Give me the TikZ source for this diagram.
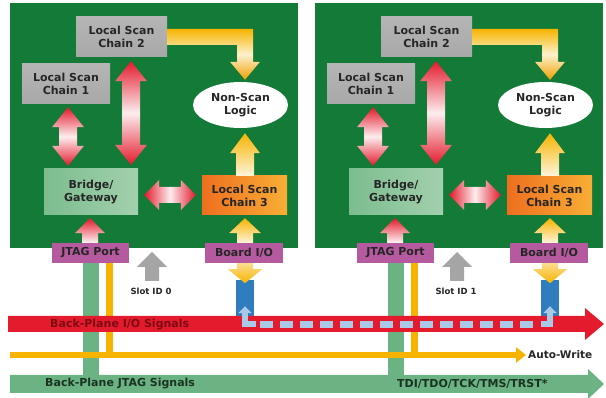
\documentclass[tikz,border=0pt]{standalone}
\usepackage{fontspec}
\setmainfont{DejaVu Sans}
\usetikzlibrary{calc,shapes.geometric,arrows.meta}
\definecolor{boardG}{HTML}{137A37}
\definecolor{bandG}{HTML}{6BB383}
\definecolor{redA}{HTML}{E31B2D}
\definecolor{redT}{HTML}{7E0A12}
\definecolor{yelA}{HTML}{F6B400}
\definecolor{yelB}{HTML}{F0A000}
\definecolor{blueA}{HTML}{2F7DBE}
\definecolor{lbA}{HTML}{A9C9E6}
\definecolor{grayA}{HTML}{A5A5A5}
\definecolor{boxG}{HTML}{A8A8A8}
\definecolor{magA}{HTML}{B65A9F}
\definecolor{orgA}{HTML}{EE6F1F}
\definecolor{orgB}{HTML}{F8AE35}
\definecolor{brgA}{HTML}{7CBD8E}
\definecolor{brgB}{HTML}{A2D0AD}
\definecolor{txtD}{HTML}{262626}
\definecolor{greenT}{HTML}{1B3321}

\tikzset{
  boxlbl/.style={font=\bfseries\fontsize{11}{13}\selectfont, text=txtD, align=center, inner sep=0pt},
  graybox/.style={boxlbl, rectangle, minimum height=40pt, top color=boxG!85!white, bottom color=boxG},
  bridgebox/.style={boxlbl, rectangle, minimum width=94pt, minimum height=46pt, left color=brgA, right color=brgB},
  orangebox/.style={boxlbl, rectangle, minimum width=85pt, minimum height=39pt, left color=orgA, right color=orgB},
  logicell/.style={boxlbl, ellipse, fill=white, minimum width=95pt, minimum height=46pt},
  portbox/.style={font=\bfseries\fontsize{11}{13}\selectfont, text=txtD, fill=magA, minimum height=20pt, inner sep=0pt},
  slotlbl/.style={font=\bfseries\fontsize{8.5}{10}\selectfont, text=txtD, inner sep=0pt},
  bandlbl/.style={font=\bfseries\fontsize{11}{13}\selectfont, inner sep=0pt},
  redDblV/.style={top color=redA, bottom color=redA, middle color=redA!8},
  redDblH/.style={left color=redA, right color=redA, middle color=redA!8},
  redUp/.style={top color=redA, bottom color=redA!5},
  yelUp/.style={top color=yelA, bottom color=yelA!15},
  yelL/.style={top color=yelA, bottom color=yelB, middle color=yelA!20},
  yelD/.style={top color=yelA!45, bottom color=yelA},
  grayUp/.style={fill=grayA},
}

% single vertical fat arrow: style, x, tail anchor, tip anchor, gap, shaft half, head half, head length
\newcommand{\fatV}[8]{%
  \path[#1] let \p3=({#2},0), \p1=(#3), \p2=(#4),
    \n1={ifthenelse(\y2>\y1,1,-1)}, \n2={\y2-(\n1)*#5}, \n3={\y2-(\n1)*#5-(\n1)*#8} in
    (\x3-#6,\y1) -- (\x3-#6,\n3*1pt) -- (\x3-#7,\n3*1pt) -- (\x3,\n2*1pt)
    -- (\x3+#7,\n3*1pt) -- (\x3+#6,\n3*1pt) -- (\x3+#6,\y1) -- cycle;}
% vertical double fat arrow: style, x, upper anchor, lower anchor, gap, shaft half, head half, head length
\newcommand{\fatVV}[8]{%
  \path[#1] let \p3=({#2},0), \p1=(#3), \p2=(#4),
    \n1={\y1-#5}, \n2={\y2+#5}, \n3={\y1-#5-#8}, \n4={\y2+#5+#8} in
    (\x3,\n1*1pt) -- (\x3+#7,\n3*1pt) -- (\x3+#6,\n3*1pt) -- (\x3+#6,\n4*1pt)
    -- (\x3+#7,\n4*1pt) -- (\x3,\n2*1pt) -- (\x3-#7,\n4*1pt) -- (\x3-#6,\n4*1pt)
    -- (\x3-#6,\n3*1pt) -- (\x3-#7,\n3*1pt) -- cycle;}
% horizontal double fat arrow: style, y, left anchor, right anchor, gap, shaft half, head half, head length
\newcommand{\fatHH}[8]{%
  \path[#1] let \p3=(0,{#2}), \p1=(#3), \p2=(#4),
    \n1={\x1+#5}, \n2={\x2-#5}, \n3={\x1+#5+#8}, \n4={\x2-#5-#8} in
    (\n1*1pt,\y3) -- (\n3*1pt,\y3+#7) -- (\n3*1pt,\y3+#6) -- (\n4*1pt,\y3+#6)
    -- (\n4*1pt,\y3+#7) -- (\n2*1pt,\y3) -- (\n4*1pt,\y3-#7) -- (\n4*1pt,\y3-#6)
    -- (\n3*1pt,\y3-#6) -- (\n3*1pt,\y3-#7) -- cycle;}

% one board: offset, name prefix, slot label
\newcommand{\boardunit}[3]{%
  \fill[boardG] ({#1+10},3) rectangle ({#1+298},248);
  \node[graybox, minimum width=91pt] (#2lsc2) at ({#1+121.5},37) {Local Scan\\Chain 2};
  \node[graybox, minimum width=88pt] (#2lsc1) at ({#1+66},84) {Local Scan\\Chain 1};
  \node[logicell] (#2nsl) at ({#1+240.5},105) {Non-Scan\\Logic};
  \node[bridgebox] (#2brg) at ({#1+91},192) {Bridge/\\Gateway};
  \node[orangebox] (#2lsc3) at ({#1+244.5},195.5) {Local Scan\\Chain 3};
  \node[portbox, minimum width=77pt] (#2jtag) at ({#1+90.5},253) {JTAG Port};
  \node[portbox, minimum width=78pt] (#2bio) at ({#1+244},253) {Board I/O};
  % verticals to backplane
  \fill[bandG] ($(#2jtag.south)+(-7.5,0)$) rectangle ($(#2jtag.south)+(8.5,113)$);
  \fill[yelA] ($(#2jtag.south)+(15.5,0)$) rectangle ($(#2jtag.south)+(22.5,93)$);
  \fill[blueA] ($(#2bio.south)+(-8.5,17)$) rectangle ($(#2bio.south)+(9.5,53)$);
  % fat arrows
  \path[yelL] let \p1=(#2lsc2.east), \p2=(#2nsl.north), \p3=({#1+245},0) in
    (\x1,\y1+8pt) -- (\x3+8pt,\y1+8pt) -- (\x3+8pt,\y2+20pt) -- (\x3+15pt,\y2+20pt)
    -- (\x3,\y2+2pt) -- (\x3-15pt,\y2+20pt) -- (\x3-8pt,\y2+20pt) -- (\x3-8pt,\y1-8pt)
    -- (\x1,\y1-8pt) -- cycle;
  \fatVV{redDblV}{#1+68}{#2lsc1.south}{#2brg.north}{3pt}{9pt}{16pt}{20pt}
  \fatVV{redDblV}{#1+131}{#2lsc2.south}{#2brg.north}{4pt}{9pt}{16pt}{20pt}
  \fatHH{redDblH}{195}{#2brg.east}{#2lsc3.west}{6pt}{8pt}{15pt}{15pt}
  \fatV{yelUp}{#1+245}{#2lsc3.north}{#2nsl.south}{5pt}{9pt}{15pt}{20pt}
  \fatV{redUp}{#1+90}{#2jtag.north}{#2brg.south}{3pt}{8pt}{15pt}{15pt}
  \fatV{yelUp}{#1+245}{#2bio.north}{#2lsc3.south}{3pt}{8pt}{16pt}{15pt}
  \coordinate (#2biotip) at ($(#2bio.south)+(1,20)$);
  \fatV{yelD}{#1+245}{#2bio.south}{#2biotip}{0pt}{8pt}{17pt}{14pt}
  % slot id
  \node[slotlbl] (#2slot) at ({#1+151},291) {#3};
  \coordinate (#2sb) at ({#1+152},281);
  \coordinate (#2st) at ({#1+152},252);
  \fatV{grayUp}{#1+152}{#2sb}{#2st}{0pt}{7pt}{15pt}{15pt}
}

\begin{document}
\begin{tikzpicture}[x=1pt,y=-1pt]
\useasboundingbox (0,0) rectangle (606,398);
\fill[white] (0,0) rectangle (606,398);

\boardunit{0}{L}{Slot ID 0}
\boardunit{305}{R}{Slot ID 1}

% Back-plane I/O band
\fill[redA] (8,316) -- (585,316) -- (585,308) -- (604,324) -- (585,340) -- (585,332) -- (8,332) -- cycle;
\node[bandlbl, text=redT, anchor=west] (iolbl) at (50,324.5) {Back-Plane I/O Signals};

% Auto-write line
\node[bandlbl, text=txtD, anchor=west, font=\bfseries\fontsize{10.5}{12}\selectfont] (aw) at (528,355) {Auto-Write};
\coordinate (awstart) at (10,355);
\draw[yelA, line width=6pt, -{Triangle[length=10pt,width=15pt]}] (awstart) -- ([xshift=-2pt]aw.west);

% Back-plane JTAG band
\fill[bandG] (10,375) -- (588,375) -- (588,369) -- (604,384) -- (588,399) -- (588,393) -- (10,393) -- cycle;
\node[bandlbl, text=greenT, anchor=west] (jtaglbl) at (45,384) {Back-Plane JTAG Signals};
\node[bandlbl, text=greenT, anchor=west] (siglbl) at (397,384) {TDI/TDO/TCK/TMS/TRST*};

% light-blue I/O link
\draw[lbA, line width=6pt, line join=miter, -{Triangle[length=7pt,width=13pt]}] ($(Lbio.south)+(12,61)$) -| ($(Lbio.south)+(1,43)$);
\draw[lbA, line width=7pt, dash pattern=on 13pt off 7pt] ($(Lbio.south)+(16,61)$) -- ($(Rbio.south)+(-10,61)$);
\draw[lbA, line width=6pt, line join=miter, -{Triangle[length=7pt,width=13pt]}] ($(Rbio.south)+(-8,61)$) -| ($(Rbio.south)+(1,43)$);
\end{tikzpicture}
\end{document}
